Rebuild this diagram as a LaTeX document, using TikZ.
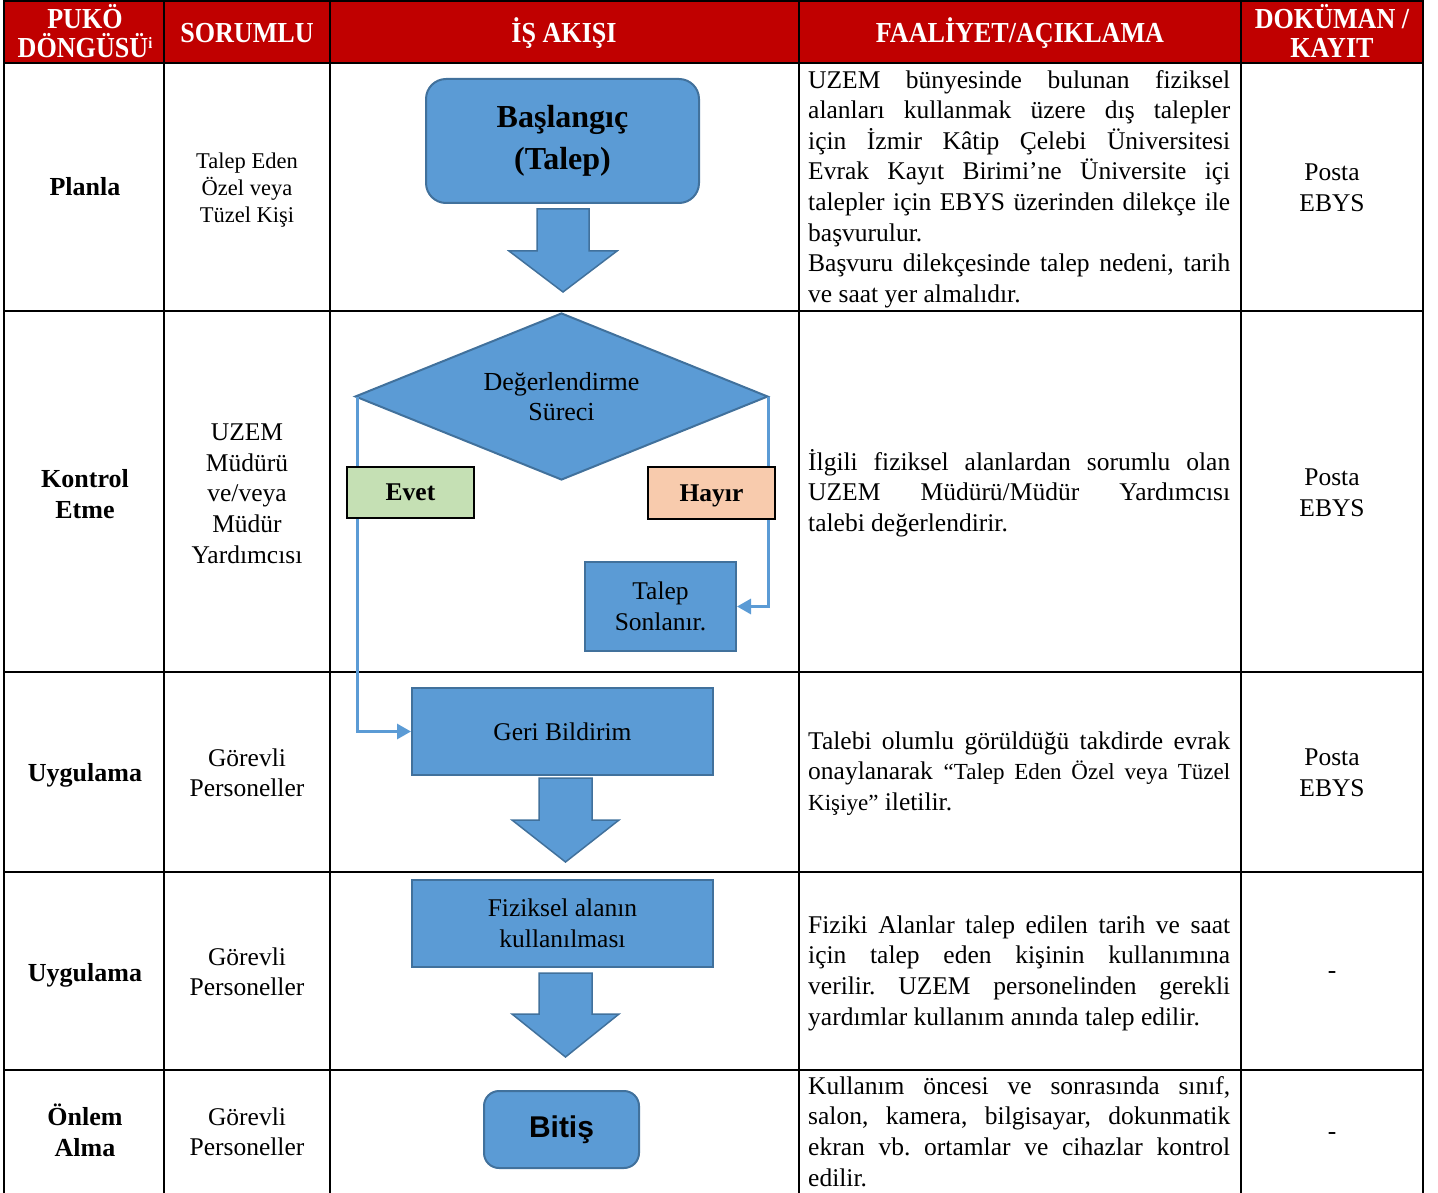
\documentclass[tikz,border=0pt]{standalone}
\usepackage{fontspec}
\setmainfont{Liberation Serif}
\newfontfamily\hdrfont{Liberation Serif}[FakeStretch=0.9]
\newfontfamily\arialf{Liberation Sans}
\usetikzlibrary{shapes.geometric,arrows.meta}

\definecolor{hdrred}{HTML}{C00000}
\definecolor{fcblue}{HTML}{5B9BD5}
\definecolor{fcedge}{HTML}{41719C}
\definecolor{evetg}{HTML}{C5E0B4}
\definecolor{hayiro}{HTML}{F8CBAD}

\frenchspacing
\newcommand\fr{\rule{0pt}{24pt}}
\newcommand\hr{\rule{0pt}{26pt}}
\newcommand\jl[1]{\leavevmode\hbox to 422pt{\spaceskip=0pt\xspaceskip=0pt\frenchspacing\relax #1}}
\newcommand\bodyf{\fontsize{25.5}{30.6}\selectfont}
\newcommand\cbold{\fontsize{26}{31}\selectfont\bfseries}
\newcommand\smq{\fontsize{23}{30.6}\selectfont}

\tikzset{
  gridline/.style={line width=2.5pt, black, line cap=rect},
  hdr/.style={text=white, inner sep=0pt, font=\hdrfont\bfseries\fontsize{29}{29}\selectfont},
  ctxt/.style={inner sep=0pt, font=\bodyf},
  ctr/.style={inner sep=0pt, text width=#1, execute at begin node={\spaceskip=0pt\xspaceskip=0pt\frenchspacing\relax\centering}},
  ptxt/.style={inner sep=0pt, text width=422pt, anchor=north west, font=\bodyf, execute at begin node={\spaceskip=0pt\xspaceskip=0pt\frenchspacing\relax}},
  fcbox/.style={draw=fcedge, fill=fcblue, line width=2pt, inner sep=0pt, font=\bodyf},
  lbl/.style={draw=black, line width=2pt, inner sep=0pt, minimum width=127pt, minimum height=51pt, font=\bodyf\bfseries, text depth=0pt},
  blockarrow/.style={fill=fcblue, draw=fcedge, line width=1.5pt, line join=miter},
  conn/.style={draw=fcblue, line width=3pt, -{Triangle[length=14pt,width=15pt]}}
}

\begin{document}
\begin{tikzpicture}[x=1pt,y=-1pt]
\useasboundingbox (0,0) rectangle (1438,1193);

% header band and grid
\fill[hdrred] (4,1) rectangle (1423,63);
\foreach \yy in {1,63,311,672,872,1070} \draw[gridline] (4,\yy) -- (1423,\yy);
\foreach \xx in {4,164,330,799,1241,1423} \draw[gridline] (\xx,1) -- (\xx,1193);

% header texts
\node[hdr, ctr=156pt, anchor=north] (h1) at (85,2) {\hr PUKÖ\\DÖNGÜSÜ\raisebox{9pt}{\fontsize{16}{16}\selectfont i}};
\node[hdr, anchor=base] (h2) at (247,43) {SORUMLU};
\node[hdr, anchor=base] (h3) at (564,43) {İŞ AKIŞI};
\node[hdr, anchor=base] (h4) at (1020,43) {FAALİYET/AÇIKLAMA};
\node[hdr, ctr=178pt, anchor=north] (h5) at (1332,2) {\hr DOKÜMAN /\\KAYIT};

% column 1
\node[ctxt, font=\cbold, anchor=base] (p1) at (85,196) {Planla};
\node[ctxt, ctr=150pt, font=\cbold, anchor=north] (p2) at (85,463) {\fr Kontrol\\Etme};
\node[ctxt, font=\cbold, anchor=base] (p3) at (85,781) {Uygulama};
\node[ctxt, font=\cbold, anchor=base] (p4) at (85,981) {Uygulama};
\node[ctxt, ctr=150pt, font=\cbold, anchor=north] (p5) at (85,1101) {\fr Önlem\\Alma};

% column 2
\node[ctxt, ctr=160pt, font=\fontsize{22.5}{27}\selectfont, anchor=north] (s1) at (247,144) {\fr Talep Eden\\Özel veya\\Tüzel Kişi};
\node[ctxt, ctr=160pt, font=\fontsize{25.5}{30.8}\selectfont, anchor=north] (s2) at (247,416) {\fr UZEM\\Müdürü\\ve/veya\\Müdür\\Yardımcısı};
\node[ctxt, ctr=160pt, font=\fontsize{25.5}{30.7}\selectfont, anchor=north] (s3) at (247,742) {\fr Görevli\\Personeller};
\node[ctxt, ctr=160pt, font=\fontsize{25.5}{30.7}\selectfont, anchor=north] (s4) at (247,941) {\fr Görevli\\Personeller};
\node[ctxt, ctr=160pt, font=\fontsize{25.5}{30.7}\selectfont, anchor=north] (s5) at (247,1101) {\fr Görevli\\Personeller};

% column 4
\node[ptxt] (d1) at (808,64) {\fr\jl{UZEM bünyesinde bulunan fiziksel}\\\jl{alanları kullanmak üzere dış talepler}\\\jl{için İzmir Kâtip Çelebi Üniversitesi}\\\jl{Evrak Kayıt Birimi’ne Üniversite içi}\\\jl{talepler için EBYS üzerinden dilekçe ile}\\başvurulur.\\\jl{Başvuru dilekçesinde talep nedeni, tarih}\\ve saat yer almalıdır.};
\node[ptxt] (d2) at (808,446) {\fr\jl{İlgili fiziksel alanlardan sorumlu olan}\\\jl{UZEM Müdürü/Müdür Yardımcısı}\\talebi değerlendirir.};
\node[ptxt] (d3) at (808,725) {\fr\jl{Talebi olumlu görüldüğü takdirde evrak}\\\jl{onaylanarak {\smq “Talep Eden Özel veya Tüzel}}\\{\smq Kişiye”} iletilir.};
\node[ptxt] (d4) at (808,909) {\fr\jl{Fiziki Alanlar talep edilen tarih ve saat}\\\jl{için talep eden kişinin kullanımına}\\\jl{verilir. UZEM personelinden gerekli}\\yardımlar kullanım anında talep edilir.};
\node[ptxt] (d5) at (808,1070) {\fr\jl{Kullanım öncesi ve sonrasında sınıf,}\\\jl{salon, kamera, bilgisayar, dokunmatik}\\\jl{ekran vb. ortamlar ve cihazlar kontrol}\\edilir.};

% column 5
\node[ctxt, ctr=170pt, font=\fontsize{25.5}{31}\selectfont, anchor=north] (k1) at (1332,156) {\fr Posta\\EBYS};
\node[ctxt, ctr=170pt, font=\fontsize{25.5}{31}\selectfont, anchor=north] (k2) at (1332,461) {\fr Posta\\EBYS};
\node[ctxt, ctr=170pt, font=\fontsize{25.5}{31}\selectfont, anchor=north] (k3) at (1332,741) {\fr Posta\\EBYS};
\node[ctxt, anchor=base] (k4) at (1332,978) {-};
\node[ctxt, anchor=base] (k5) at (1332,1139) {-};

% flowchart shapes
\node[fcbox, ctr=250pt, rounded corners=20pt, minimum width=273pt, minimum height=124pt, font=\fontsize{32}{42}\selectfont\bfseries] (start) at (562.5,141) {Başlangıç\\(Talep)};
\filldraw[blockarrow] (537,209) -- (589,209) -- (589,251) -- (617,251) -- (563,292) -- (509,251) -- (537,251) -- cycle;
\node[fcbox, ctr=200pt, diamond, aspect=2.47, minimum width=413pt, minimum height=167pt, font=\fontsize{26}{30}\selectfont] (dia) at (561.5,396.5) {Değerlendirme\\Süreci};
\node[fcbox, ctr=140pt, minimum width=151pt, minimum height=89pt] (talep) at (660.5,606.5) {Talep\\Sonlanır.};
\node[fcbox, ctr=280pt, minimum width=301pt, minimum height=87pt] (geri) at (562.5,731.5) {Geri Bildirim};
\filldraw[blockarrow] (539,778) -- (592,778) -- (592,820) -- (619,820) -- (565.5,862) -- (512,820) -- (539,820) -- cycle;
\node[fcbox, ctr=280pt, minimum width=301pt, minimum height=87pt] (fiz) at (562.5,923.5) {Fiziksel alanın\\kullanılması};
\filldraw[blockarrow] (539,973) -- (592,973) -- (592,1014) -- (619,1014) -- (565.5,1057) -- (512,1014) -- (539,1014) -- cycle;
\node[fcbox, rounded corners=15pt, minimum width=155pt, minimum height=77pt, font=\arialf\bfseries\fontsize{30}{36}\selectfont] (bitis) at (561.5,1129.5) {Bitiş};

% connectors
\draw[conn] ([xshift=3pt]dia.west) |- (geri.west);
\draw[conn] ([xshift=-1pt]dia.east) |- (talep.east);

% decision labels
\node[lbl, fill=evetg] (evet) at (410.5,492.5) {Evet};
\node[lbl, fill=hayiro, minimum height=52pt] (hayir) at (711.5,493) {Hayır};
\end{tikzpicture}
\end{document}
